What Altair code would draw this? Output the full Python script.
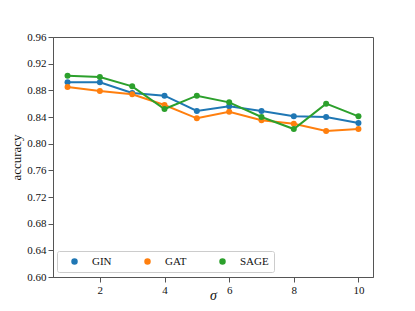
import altair as alt
import pandas as pd

sigma = [1, 2, 3, 4, 5, 6, 7, 8, 9, 10]
gin = [0.892, 0.892, 0.876, 0.872, 0.849, 0.856, 0.849, 0.841, 0.840, 0.831]
gat = [0.885, 0.879, 0.874, 0.858, 0.838, 0.848, 0.835, 0.830, 0.819, 0.822]
sage = [0.902, 0.900, 0.886, 0.852, 0.872, 0.862, 0.840, 0.822, 0.860, 0.841]
models = ["GIN", "GAT", "SAGE"]
colors = ["#1f77b4", "#ff7f0e", "#2ca02c"]
x_ticks = [2, 4, 6, 8, 10]
y_ticks = [0.60, 0.64, 0.68, 0.72, 0.76, 0.80, 0.84, 0.88, 0.92, 0.96]

rows = []
for name, vals in zip(models, [gin, gat, sage]):
    for s, v in zip(sigma, vals):
        rows.append({"sigma": s, "accuracy": v, "model": name, "order": models.index(name)})
df = pd.DataFrame(rows)

FONT = "Liberation Serif"

base = alt.Chart(df).encode(
    x=alt.X("sigma:Q",
            scale=alt.Scale(domain=[0.55, 10.45], nice=False, zero=False),
            axis=alt.Axis(values=x_ticks, title="σ", grid=False, titleFontStyle="italic",
                          titleFont=FONT, labelFont=FONT,
                          titleFontSize=14, titleFontWeight="normal",
                          titleY=25, titleBaseline="bottom")),
    y=alt.Y("accuracy:Q",
            scale=alt.Scale(domain=[0.60, 0.96], nice=False, zero=False),
            axis=alt.Axis(values=y_ticks, format=".2f", title="accuracy", grid=False,
                          titleFont=FONT, labelFont=FONT,
                          titleFontSize=13, titleFontWeight="normal", titlePadding=3)),
    color=alt.Color("model:N",
                    scale=alt.Scale(domain=models, range=colors),
                    legend=alt.Legend(title=None, orient="none", legendX=4, legendY=214,
                                      direction="horizontal", columns=3,
                                      symbolType="circle", symbolSize=25,
                                      symbolOffset=7, labelOffset=12,
                                      columnPadding=23, padding=5,
                                      strokeColor="#cccccc", cornerRadius=2,
                                      fillColor="rgba(255,255,255,0.8)",
                                      labelFont=FONT, labelFontSize=11, labelColor="#111")),
    order=alt.Order("order:Q"),
)

lines = base.mark_line(strokeWidth=2)
points = base.mark_point(filled=True, size=36, opacity=1)

chart = (lines + points).properties(
    width=320, height=240,
    autosize=alt.AutoSizeParams(type="none"),
    padding={"left": 45, "top": 29, "right": 34, "bottom": 26},
).configure(
    font=FONT
).configure_view(
    stroke="#555555", strokeWidth=1
).configure_axis(
    domainColor="#555555", tickColor="#555555", tickSize=5, labelPadding=2,
    labelFont=FONT, labelFontSize=11, labelColor="#111111",
    titleFont=FONT, titleColor="#111111",
)

chart.save("out.html", embed_options={"renderer": "svg", "actions": False})
